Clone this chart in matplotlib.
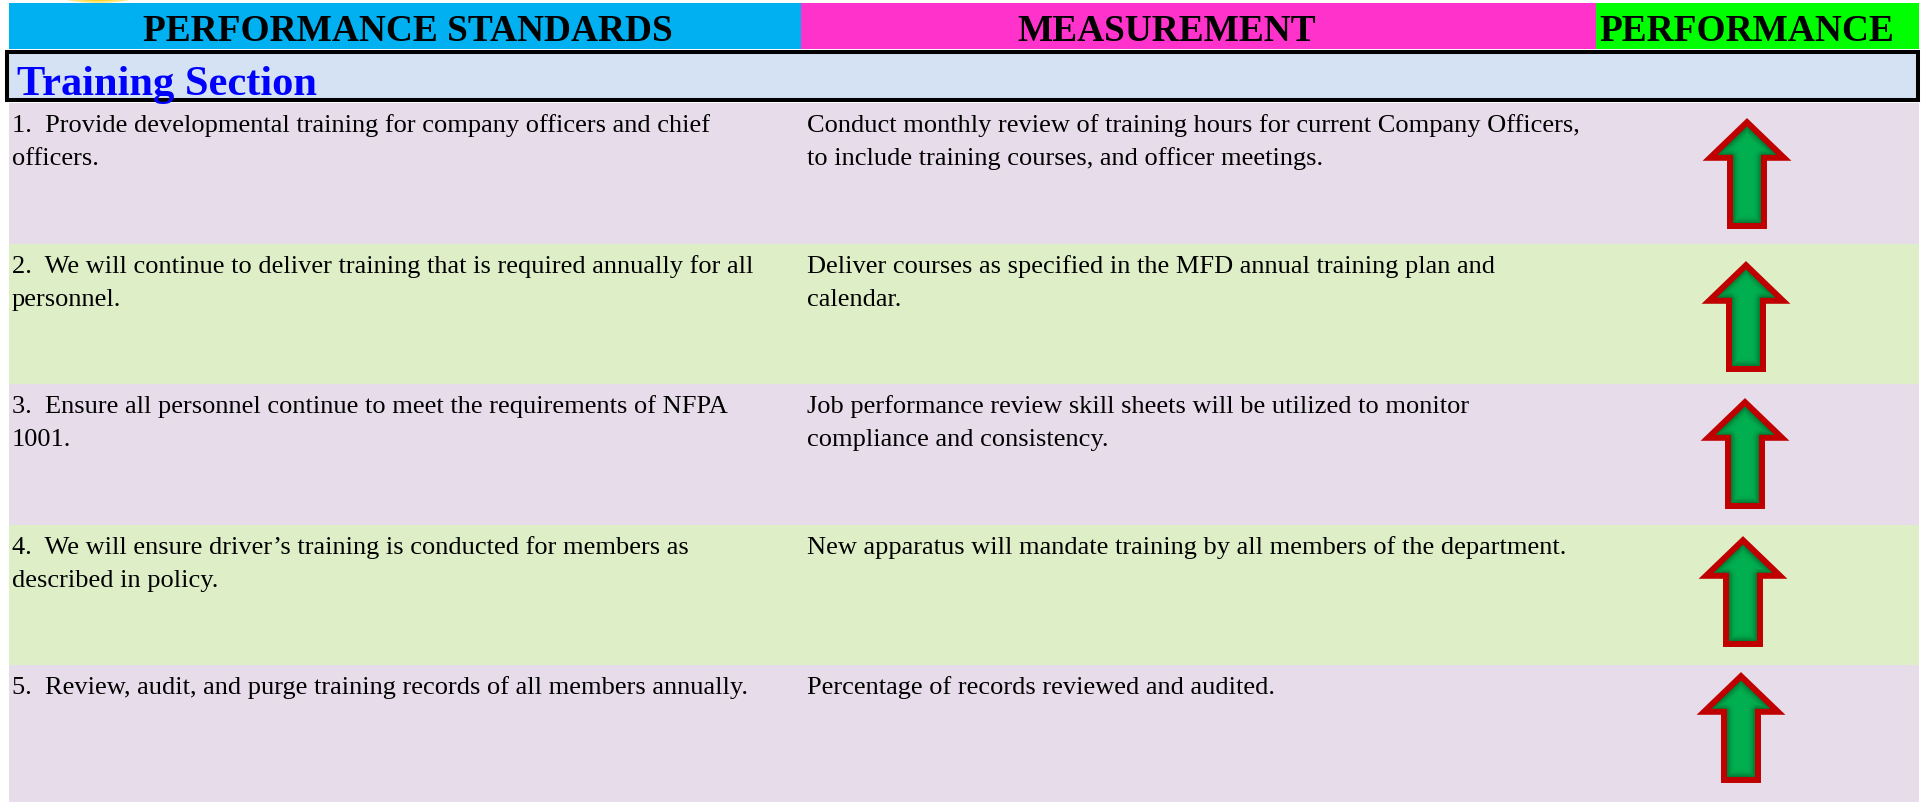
import matplotlib
matplotlib.use("Agg")
import matplotlib.pyplot as plt
import numpy as np
from matplotlib.patches import Rectangle, Polygon, Circle
from matplotlib.colors import LinearSegmentedColormap

# ---- data ----
headers = ["PERFORMANCE STANDARDS", "MEASUREMENT", "PERFORMANCE"]
section = "Training Section"
standards = [
    ["1.  Provide developmental training for company officers and chief", "officers."],
    ["2.  We will continue to deliver training that is required annually for all", "personnel."],
    ["3.  Ensure all personnel continue to meet the requirements of NFPA", "1001."],
    ["4.  We will ensure driver\u2019s training is conducted for members as", "described in policy."],
    ["5.  Review, audit, and purge training records of all members annually."],
]
measurements = [
    ["Conduct monthly review of training hours for current Company Officers,",
     "to include training courses, and officer meetings."],
    ["Deliver courses as specified in the MFD annual training plan and", "calendar."],
    ["Job performance review skill sheets will be utilized to monitor", "compliance and consistency."],
    ["New apparatus will mandate training by all members of the department."],
    ["Percentage of records reviewed and audited."],
]
performance = ["up", "up", "up", "up", "up"]

# ---- layout (pixels) ----
W, H = 1927, 803
col_edges = [9, 801, 1596, 1919]
header_top, header_bot = 4, 50
row_edges = [104, 245, 385, 526, 666, 803]
row_colors = ["#E7DDEA", "#DEEFC8"]
header_colors = ["#00B0F0", "#FF33CC", "#00FF00"]
header_text_x = [408, 1167, 1747]
arrow_tip_off = [15, 17, 14, 11, 7]
arrow_cx = [1747, 1746, 1745, 1743, 1741]

plt.rcParams['font.family'] = ['Liberation Serif', 'DejaVu Serif']

fig = plt.figure(figsize=(W / 100, H / 100), dpi=100)
ax = fig.add_axes([0, 0, 1, 1])
ax.set_xlim(0, W)
ax.set_ylim(H, 0)
ax.axis('off')

# yellow emblem peeking in at the top
ax.add_patch(Circle((98, -164), 167, facecolor="#FFD21A", edgecolor="#FFE680", lw=1.5, zorder=1))

# header band
for i, h in enumerate(headers):
    ax.add_patch(Rectangle((col_edges[i], header_top), col_edges[i + 1] - col_edges[i],
                           header_bot - header_top, facecolor=header_colors[i], lw=0, zorder=2))
    ax.text(header_text_x[i], 41, h, ha='center', va='baseline', fontsize=26.9,
            fontweight='bold', color='black', zorder=3)

# section box
ax.add_patch(Rectangle((7, 53), 1918 - 7, 101 - 53, facecolor="#D4E2F4",
                       edgecolor='black', lw=2.9, zorder=2))
ax.text(17, 95, section, ha='left', va='baseline', fontsize=30.6, fontweight='bold',
        color='#0000FF', zorder=3)

# arrow gradient colormap
cmap = LinearSegmentedColormap.from_list("g", ["#005A24", "#00863A", "#00A84C", "#00B050"])


def arrow_poly(cx, top, inset=3.0):
    hw, sw = 40 - inset, 20 - inset
    tip = top + inset * 1.4
    head_base = top + 41 - inset * 0.4
    bottom = top + 111 - inset
    return np.array([[cx, tip], [cx + hw, head_base], [cx + sw, head_base], [cx + sw, bottom],
                     [cx - sw, bottom], [cx - sw, head_base], [cx - hw, head_base]])


def edge_distance(pts, xs, ys):
    X, Y = np.meshgrid(xs, ys)
    d = np.full(X.shape, np.inf)
    n = len(pts)
    for k in range(n):
        a, b = pts[k], pts[(k + 1) % n]
        ab = b - a
        t = ((X - a[0]) * ab[0] + (Y - a[1]) * ab[1]) / (ab @ ab)
        t = np.clip(t, 0, 1)
        px, py = a[0] + t * ab[0], a[1] + t * ab[1]
        d = np.minimum(d, np.hypot(X - px, Y - py))
    return d


# rows
for r in range(len(standards)):
    y0, y1 = row_edges[r], row_edges[r + 1]
    ax.add_patch(Rectangle((col_edges[0], y0), col_edges[3] - col_edges[0], y1 - y0,
                           facecolor=row_colors[r % 2], lw=0, zorder=1))
    for j, line in enumerate(standards[r]):
        ax.text(12, y0 + 28 + 33 * j, line, ha='left', va='baseline', fontsize=19.0, zorder=3)
    for j, line in enumerate(measurements[r]):
        ax.text(807, y0 + 28 + 33 * j, line, ha='left', va='baseline', fontsize=19.0, zorder=3)

    if performance[r] == "up":
        top = y0 + arrow_tip_off[r]
        cx = arrow_cx[r]
        pts = arrow_poly(cx, top)
        xs = np.linspace(cx - 40, cx + 40, 161)
        ys = np.linspace(top, top + 111, 223)
        d = edge_distance(pts, xs, ys)
        val = np.clip(d / 12.0, 0, 1)
        im = ax.imshow(val, cmap=cmap, vmin=0, vmax=1, extent=(xs[0], xs[-1], ys[-1], ys[0]),
                       interpolation='bilinear', zorder=4)
        poly = Polygon(pts, closed=True, facecolor='none', edgecolor='#C00000', lw=4.3,
                       joinstyle='miter', zorder=5)
        ax.add_patch(poly)
        im.set_clip_path(poly)

ax.set_xlim(0, W)
ax.set_ylim(H, 0)
fig.savefig("out.png", dpi=100)
